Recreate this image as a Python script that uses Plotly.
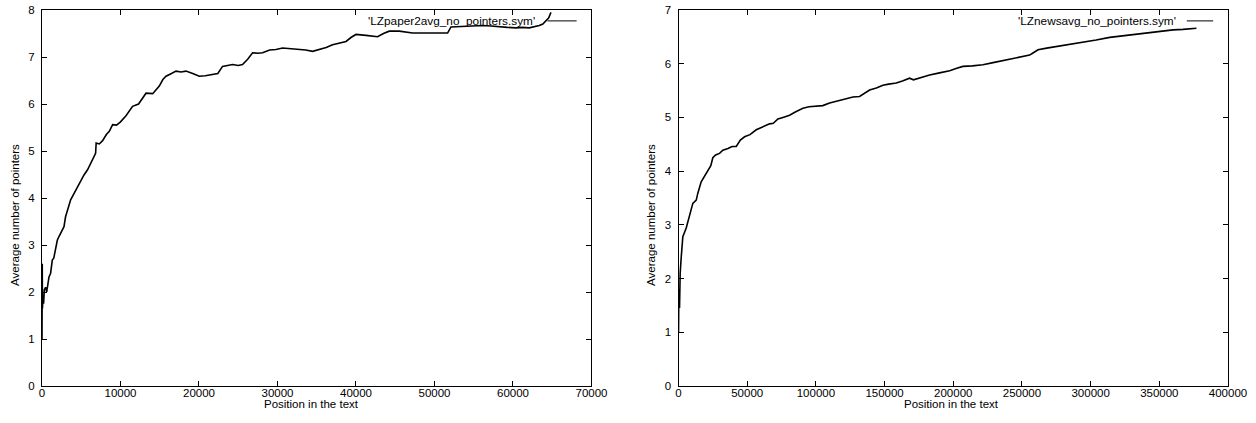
import plotly.graph_objects as go
from plotly.subplots import make_subplots

# ---- data: (position, average number of pointers) ----
paper2_points = [
    (0, 1.0), (30, 2.6), (60, 1.65), (120, 1.9), (200, 1.75), (300, 2.05), (460, 2.1),
    (600, 2.0), (890, 2.32), (1100, 2.4), (1310, 2.68), (1500, 2.72), (1740, 2.96),
    (1950, 3.1), (2160, 3.18), (2500, 3.3), (2800, 3.39), (3000, 3.6), (3220, 3.75),
    (3450, 3.85), (3650, 3.96), (4100, 4.1), (4500, 4.24), (4900, 4.35), (5350, 4.49),
    (5800, 4.6), (6190, 4.74), (6500, 4.85), (6830, 4.95), (6900, 5.17), (7300, 5.15),
    (7720, 5.22), (8200, 5.35), (8573, 5.42), (9000, 5.56), (9500, 5.55), (10000, 5.62),
    (10700, 5.75), (11540, 5.95), (12300, 6.0), (13250, 6.23), (14100, 6.22), (14940, 6.38),
    (15400, 6.52), (15800, 6.59), (16500, 6.65), (17070, 6.70), (17700, 6.68), (18340, 6.70),
    (19200, 6.65), (20040, 6.59), (20800, 6.6), (21730, 6.62), (22400, 6.65), (23000, 6.80),
    (23600, 6.82), (24280, 6.84), (25000, 6.82), (25550, 6.84), (26200, 6.95), (26830, 7.09),
    (27500, 7.08), (28100, 7.09), (29000, 7.15), (29800, 7.16), (30650, 7.19), (31700, 7.18),
    (32780, 7.17), (33600, 7.15), (34470, 7.12), (35320, 7.16), (36200, 7.2), (37020, 7.26),
    (37900, 7.3), (38730, 7.33), (39400, 7.42), (40000, 7.48), (41270, 7.46), (42000, 7.45),
    (42750, 7.43), (43500, 7.5), (44240, 7.55), (45510, 7.55), (46300, 7.53), (47210, 7.51),
    (48500, 7.51), (49760, 7.51), (50700, 7.5), (51670, 7.51), (52100, 7.64), (53000, 7.65),
    (54010, 7.66), (55000, 7.66), (56130, 7.67), (57200, 7.66), (58250, 7.64), (59300, 7.63),
    (60380, 7.62), (61200, 7.63), (62070, 7.62), (62800, 7.64), (63350, 7.67), (63800, 7.7),
    (64200, 7.76), (64540, 7.83), (64840, 7.95),
]

news_points = [
    (0, 1.0), (250, 1.8), (730, 1.45), (1200, 2.1), (1970, 2.4), (3130, 2.78), (5600, 2.94),
    (8010, 3.15), (10420, 3.40), (12890, 3.46), (14060, 3.59), (16500, 3.80), (21340, 3.99),
    (23500, 4.1), (24980, 4.25), (27000, 4.3), (29860, 4.33), (32260, 4.39), (36000, 4.42),
    (39000, 4.46), (42020, 4.46), (45000, 4.58), (48070, 4.64), (52000, 4.68), (56580, 4.77),
    (61000, 4.82), (66280, 4.88), (69000, 4.89), (72340, 4.97), (76000, 5.0), (80840, 5.04),
    (85000, 5.1), (90540, 5.17), (95000, 5.2), (100250, 5.21), (105000, 5.22), (109980, 5.27),
    (116000, 5.31), (122100, 5.36), (127000, 5.38), (131800, 5.39), (135000, 5.44),
    (139100, 5.51), (144000, 5.55), (148800, 5.60), (153000, 5.62), (158500, 5.64),
    (163000, 5.68), (168200, 5.73), (171000, 5.70), (176000, 5.74), (182800, 5.79),
    (190000, 5.83), (197400, 5.87), (202000, 5.91), (207000, 5.95), (214000, 5.96),
    (221600, 5.98), (229000, 6.02), (236200, 6.06), (245000, 6.1), (255600, 6.16),
    (258000, 6.2), (261700, 6.26), (268000, 6.29), (275100, 6.32), (285000, 6.36),
    (294500, 6.39), (304000, 6.44), (313900, 6.49), (323000, 6.52), (333300, 6.55),
    (343000, 6.58), (352700, 6.61), (360000, 6.63), (367300, 6.64), (377000, 6.66),
]

paper2_name = "'LZpaper2avg_no_pointers.sym'"
news_name = "'LZnewsavg_no_pointers.sym'"
x_title = "Position in the text"
y_title = "Average number of pointers"

FONT = "Liberation Sans, Arial, Helvetica, sans-serif"
FS = 11.5

fig = make_subplots(rows=1, cols=2, horizontal_spacing=0.0734)

px, py = zip(*paper2_points)
nx, ny = zip(*news_points)
fig.add_trace(go.Scatter(x=px, y=py, mode="lines", line=dict(color="black", width=1.6),
                         showlegend=False), row=1, col=1)
fig.add_trace(go.Scatter(x=nx, y=ny, mode="lines", line=dict(color="black", width=1.6),
                         showlegend=False), row=1, col=2)

axis_common = dict(showline=True, linecolor="black", linewidth=1, mirror="ticks",
                   ticks="inside", ticklen=5, tickcolor="black", tickwidth=1,
                   showgrid=False, zeroline=False, automargin=False,
                   tickformat="d", ticklabeloverflow="allow",
                   tickfont=dict(family=FONT, size=FS, color="black"))

fig.update_xaxes(**axis_common, range=[0, 70000], dtick=10000, tick0=0,
                 ticklabelstandoff=-4, row=1, col=1)
fig.update_xaxes(**axis_common, range=[0, 400000], dtick=50000, tick0=0,
                 ticklabelstandoff=-4, row=1, col=2)
fig.update_yaxes(**axis_common, range=[0, 8], dtick=1, tick0=0,
                 ticklabelstandoff=4, row=1, col=1)
fig.update_yaxes(**axis_common, range=[0, 7], dtick=1, tick0=0,
                 ticklabelstandoff=4, row=1, col=2)

# axis titles (gnuplot placement)
for xref, yref, xc in [("x domain", "y domain", 0.49), ("x2 domain", "y2 domain", 0.497)]:
    fig.add_annotation(xref=xref, yref=yref, x=xc, y=-0.0479, text=x_title, showarrow=False,
                       xanchor="center", yanchor="middle",
                       font=dict(family=FONT, size=FS, color="black"))
for xp in [-0.0228, 0.5135]:
    fig.add_annotation(xref="paper", yref="paper", x=xp, y=0.455, text=y_title,
                       showarrow=False, textangle=-90, xanchor="center", yanchor="middle",
                       font=dict(family=FONT, size=FS, color="black"))

# gnuplot-style key: text to the left of the line sample
for xref, yref, name, tx, l0, l1 in [("x domain", "y domain", paper2_name, 0.9, 0.92, 0.973),
                                     ("x2 domain", "y2 domain", news_name, 0.909, 0.925, 0.973)]:
    fig.add_annotation(xref=xref, yref=yref, x=tx, y=0.971, text=name, showarrow=False,
                       xanchor="right", yanchor="middle",
                       font=dict(family=FONT, size=11.8, color="black"))
    fig.add_shape(type="line", xref=xref, yref=yref, x0=l0, x1=l1, y0=0.971, y1=0.971,
                  line=dict(color="black", width=1))

fig.update_layout(width=1256, height=423, margin=dict(l=42, r=28, t=10, b=37),
                  plot_bgcolor="white", paper_bgcolor="white",
                  font=dict(family=FONT, size=FS, color="black"))

# remove the default page margin so the figure fills the window exactly
fig.write_html("out.html", config={"displayModeBar": False},
               post_script="document.body.style.margin='0px';")
